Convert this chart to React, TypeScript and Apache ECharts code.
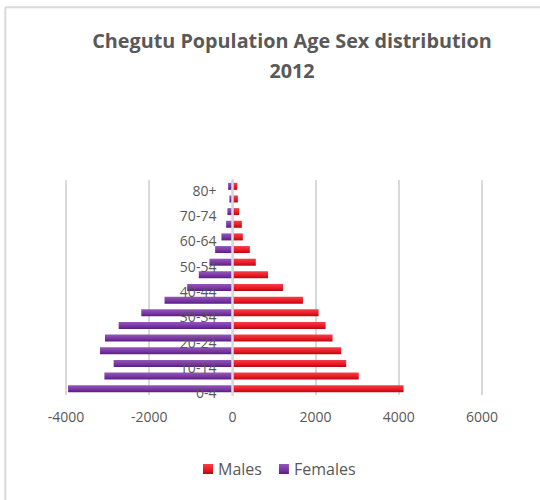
import React, { useEffect, useRef } from "react";
import * as echarts from "echarts";

// Age groups, youngest at the bottom of the pyramid
const ageGroups = [
  "0-4", "5-9", "10-14", "15-19", "20-24", "25-29", "30-34", "35-39", "40-44",
  "45-49", "50-54", "55-59", "60-64", "65-69", "70-74", "75-79", "80+",
];

// Population counts per age group
const males = [4114, 3037, 2735, 2615, 2407, 2240, 2072, 1696, 1217, 857, 563, 419, 251, 228, 163, 132, 115];
const females = [3950, 3077, 2854, 3183, 3063, 2734, 2190, 1631, 1087, 808, 552, 415, 264, 151, 120, 72, 103];

// Value axis ticks
const xMin = -4000;
const xMax = 6000;
const xStep = 2000;

const titleLines = ["Chegutu Population Age Sex distribution", "2012"];

const FONT = "'Open Sans', 'Liberation Sans', sans-serif";
const TEXT_GRAY = "#595959";
const GRID_GRAY = "#d9d9d9";

// plot area
const GRID_LEFT = 66;
const GRID_RIGHT = 58;
const CHART_W = 540;
const plotWidth = CHART_W - GRID_LEFT - GRID_RIGHT;
// shift of the category axis from the left edge to the zero line
const zeroShift = (plotWidth * (0 - xMin)) / (xMax - xMin);

const barGradient = (top: string, mid: string, bottom: string) =>
  new echarts.graphic.LinearGradient(0, 0, 0, 1, [
    { offset: 0, color: top },
    { offset: 0.65, color: mid },
    { offset: 1, color: bottom },
  ]);

export default function App() {
  const ref = useRef<HTMLDivElement>(null);

  useEffect(() => {
    if (!ref.current) return;
    const chart = echarts.init(ref.current, undefined, { renderer: "svg" });

    chart.setOption({
      animation: false,
      backgroundColor: "#ffffff",
      textStyle: { fontFamily: FONT },
      graphic: [
        // chart frame edges
        {
          type: "line",
          shape: { x1: 5.3, y1: 7.3, x2: 540, y2: 7.3 },
          style: { stroke: GRID_GRAY, lineWidth: 2 },
        },
        {
          type: "line",
          shape: { x1: 5.3, y1: 7.3, x2: 5.3, y2: 500 },
          style: { stroke: GRID_GRAY, lineWidth: 2 },
        },
        {
          type: "text",
          x: 292,
          y: 55.5,
          style: {
            text: titleLines.join("\n"),
            fontFamily: FONT,
            fontWeight: "bold",
            fontSize: 19.8,
            lineHeight: 30,
            fill: TEXT_GRAY,
            textAlign: "center",
            textVerticalAlign: "middle",
          },
        },
      ],
      legend: {
        data: ["Males", "Females"],
        left: 198,
        top: 456,
        itemWidth: 10,
        itemHeight: 10,
        itemGap: 17,
        icon: "rect",
        textStyle: { color: TEXT_GRAY, fontSize: 16, fontFamily: FONT },
      },
      grid: { left: GRID_LEFT, right: GRID_RIGHT, top: 180, bottom: 105, containLabel: false },
      xAxis: {
        type: "value",
        min: xMin,
        max: xMax,
        interval: xStep,
        axisLine: { show: false },
        axisTick: { show: false },
        axisLabel: {
          color: TEXT_GRAY,
          fontSize: 14,
          fontFamily: FONT,
          margin: 14,
          formatter: (v: number) => String(v),
        },
        splitLine: { lineStyle: { color: GRID_GRAY, width: 2 } },
      },
      yAxis: {
        type: "category",
        data: ageGroups,
        z: 3,
        offset: -zeroShift,
        axisLine: { onZero: false, lineStyle: { color: GRID_GRAY, width: 2.5 } },
        axisTick: { show: false },
        axisLabel: {
          interval: 1,
          margin: 16,
          formatter: (v: string) => `{age|${v}}`,
          rich: {
            age: {
              color: TEXT_GRAY,
              fontSize: 14,
              fontFamily: FONT,
              padding: [8, 0, 0, 0],
            },
          },
        },
      },
      series: [
        {
          name: "Males",
          type: "bar",
          data: males,
          barWidth: 7,
          barGap: "-100%",
          itemStyle: {
            color: barGradient("#f5404a", "#e8141e", "#a50f16"),
          },
        },
        {
          name: "Females",
          type: "bar",
          data: females.map((v) => -v),
          barWidth: 7,
          barGap: "-100%",
          itemStyle: {
            color: barGradient("#9458b8", "#7632a0", "#55207a"),
          },
        },
      ],
    });

    return () => chart.dispose();
  }, []);

  return (
    <div
      ref={ref}
      style={{ position: "absolute", left: 0, top: 0, width: 540, height: 500 }}
    />
  );
}
